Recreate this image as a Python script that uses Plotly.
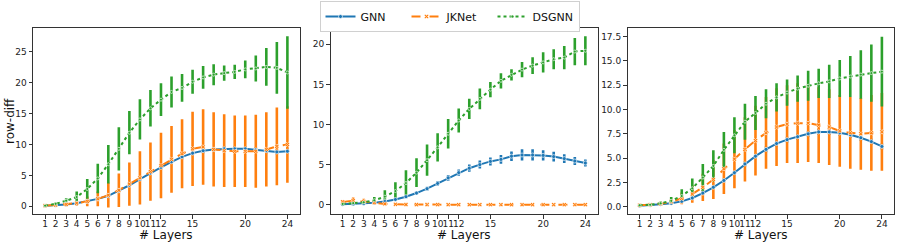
import plotly.graph_objects as go

layers = list(range(1, 25))
tick_vals = [1, 2, 3, 4, 5, 6, 7, 8, 9, 10, 11, 12, 15, 20, 24]
tick_text = [str(v) for v in tick_vals]
series_names = ["GNN", "JKNet", "DSGNN"]

# Panel 1 (row-diff)
p1_gnn_mean = [0.1, 0.15, 0.3, 0.5, 0.8, 1.2, 1.7, 2.5, 3.4, 4.4, 5.4, 6.3, 7.2, 8.0, 8.6, 9.0, 9.2, 9.3, 9.3, 9.3, 9.1, 9.0, 8.8, 8.9]
p1_gnn_std = [0.02, 0.03, 0.05, 0.08, 0.1, 0.12, 0.15, 0.2, 0.25, 0.3, 0.3, 0.35, 0.35, 0.4, 0.4, 0.4, 0.4, 0.4, 0.4, 0.4, 0.4, 0.4, 0.4, 0.4]
p1_jk_mean = [0.1, 0.2, 0.3, 0.5, 0.8, 1.2, 1.8, 2.6, 3.6, 4.6, 5.6, 6.6, 7.6, 8.5, 9.3, 9.6, 9.2, 9.0, 8.9, 8.9, 8.9, 9.2, 9.7, 10.0]
p1_jk_std = [0.1, 0.15, 0.2, 0.4, 0.8, 1.2, 2.0, 2.7, 3.5, 4.3, 4.7, 5.3, 5.4, 5.6, 6.0, 6.1, 6.0, 5.9, 5.8, 5.8, 5.9, 6.0, 6.3, 6.2]
p1_ds_mean = [0.1, 0.4, 0.9, 1.5, 2.8, 4.5, 6.8, 9.3, 11.9, 14.05, 15.85, 17.25, 18.5, 19.15, 20.15, 20.85, 21.3, 21.55, 21.75, 22.15, 22.3, 22.55, 22.4, 21.65]
p1_ds_std = [0.05, 0.2, 0.4, 0.9, 1.6, 2.4, 3.1, 3.5, 3.5, 3.25, 2.95, 2.65, 2.5, 2.25, 1.95, 1.85, 1.7, 1.25, 1.15, 1.45, 2.1, 3.05, 4.2, 5.85]

# Panel 2
p2_gnn_mean = [0.05, 0.1, 0.15, 0.25, 0.4, 0.65, 1.0, 1.45, 2.0, 2.65, 3.35, 4.0, 4.55, 5.0, 5.4, 5.65, 6.05, 6.2, 6.2, 6.15, 6.0, 5.75, 5.45, 5.2]
p2_gnn_std = [0.05, 0.05, 0.05, 0.05, 0.1, 0.1, 0.15, 0.2, 0.25, 0.3, 0.35, 0.4, 0.45, 0.5, 0.5, 0.55, 0.6, 0.7, 0.7, 0.65, 0.6, 0.55, 0.5, 0.45]
p2_jk_mean = [0.35, 0.5, 0.4, 0.25, 0.1, 0.05, 0.02, 0.01, 0.01, 0.01, 0.0, 0.0, 0.0, 0.0, 0.0, 0.0, 0.0, 0.0, 0.0, 0.0, 0.0, 0.0, 0.0, 0.0]
p2_jk_std = [0.2, 0.4, 0.35, 0.25, 0.1, 0.05, 0.03, 0.02, 0.02, 0.02, 0.02, 0.02, 0.02, 0.02, 0.02, 0.02, 0.02, 0.02, 0.02, 0.02, 0.02, 0.02, 0.02, 0.02]
p2_ds_mean = [0.1, 0.2, 0.3, 0.55, 1.0, 1.7, 2.7, 4.0, 5.55, 7.15, 8.85, 10.5, 11.95, 13.2, 14.35, 15.45, 16.2, 16.85, 17.35, 17.75, 18.15, 18.35, 19.1, 19.2]
p2_ds_std = [0.05, 0.1, 0.2, 0.4, 0.8, 1.1, 1.6, 1.8, 1.95, 1.75, 1.85, 1.5, 1.25, 1.3, 0.95, 0.95, 0.7, 0.95, 1.05, 1.25, 1.25, 1.45, 1.7, 1.8]

# Panel 3
p3_gnn_mean = [0.1, 0.15, 0.25, 0.35, 0.55, 0.9, 1.4, 2.0, 2.7, 3.5, 4.4, 5.2, 5.9, 6.5, 6.9, 7.2, 7.5, 7.7, 7.7, 7.6, 7.4, 7.1, 6.7, 6.2]
p3_gnn_std = [0.02, 0.03, 0.05, 0.05, 0.08, 0.1, 0.12, 0.15, 0.2, 0.2, 0.25, 0.25, 0.3, 0.3, 0.3, 0.3, 0.3, 0.3, 0.3, 0.3, 0.3, 0.3, 0.3, 0.3]
p3_jk_mean = [0.15, 0.2, 0.3, 0.5, 0.85, 1.3, 2.0, 2.8, 3.9, 4.9, 5.9, 6.8, 7.6, 8.2, 8.5, 8.6, 8.6, 8.4, 8.2, 7.8, 7.6, 7.5, 7.6, 7.7]
p3_jk_std = [0.05, 0.1, 0.15, 0.3, 0.6, 0.9, 1.4, 2.0, 2.6, 3.0, 3.3, 3.6, 3.7, 4.0, 4.0, 4.1, 4.0, 3.9, 3.9, 3.7, 3.7, 3.7, 3.9, 4.0]
p3_ds_mean = [0.15, 0.2, 0.35, 0.6, 1.1, 1.9, 3.0, 4.2, 5.85, 7.35, 8.75, 9.65, 10.6, 11.25, 11.75, 12.15, 12.45, 12.7, 12.9, 13.2, 13.4, 13.6, 13.75, 13.9]
p3_ds_std = [0.05, 0.1, 0.2, 0.4, 0.7, 1.0, 1.4, 1.6, 1.85, 1.85, 1.85, 1.75, 1.5, 1.45, 1.35, 1.35, 1.55, 1.5, 1.7, 1.9, 2.1, 2.5, 2.95, 3.6]

panels = [
    ([p1_gnn_mean, p1_jk_mean, p1_ds_mean], [p1_gnn_std, p1_jk_std, p1_ds_std]),
    ([p2_gnn_mean, p2_jk_mean, p2_ds_mean], [p2_gnn_std, p2_jk_std, p2_ds_std]),
    ([p3_gnn_mean, p3_jk_mean, p3_ds_mean], [p3_gnn_std, p3_jk_std, p3_ds_std]),
]

colors = ["#1f77b4", "#ff7f0e", "#2ca02c"]
dashes = ["solid", "dash", "dot"]
symbols = ["circle", "x", "circle"]
msizes = [4, 4, 3]

W, H = 899, 245
x_domains_px = [(33, 299.5), (330.5, 597.5), (627.5, 894)]
y_top_px, y_bot_px = 28.3, 214
y_domain = [1 - y_bot_px / H, 1 - y_top_px / H]
y_ranges = [[-1.25, 28.8], [-1.16, 22.0], [-0.75, 18.36]]
y_dticks = [5, 5, 2.5]
y_formats = ["d", "d", ".1f"]

fig = go.Figure()
font_family = "DejaVu Sans"

for pi, (means, stds) in enumerate(panels):
    xa = "x" if pi == 0 else f"x{pi+1}"
    ya = "y" if pi == 0 else f"y{pi+1}"
    for si in range(3):
        fig.add_trace(go.Scatter(
            x=layers, y=means[si], xaxis=xa, yaxis=ya, mode="markers",
            marker=dict(size=1, color="rgba(0,0,0,0)"),
            error_y=dict(type="data", array=stds[si], visible=True,
                         color=colors[si], thickness=2.6, width=0),
            showlegend=False, hoverinfo="skip"))
    for si in range(3):
        fig.add_trace(go.Scatter(
            x=layers, y=means[si], xaxis=xa, yaxis=ya, mode="lines+markers",
            name=series_names[si],
            line=dict(color=colors[si], width=2, dash=dashes[si]),
            marker=dict(symbol=symbols[si], size=msizes[si], color=colors[si],
                        line=dict(color="rgba(255,255,255,0.8)", width=0.8)),
            showlegend=(pi == 1)))

    axis_common = dict(showline=True, mirror=True, linecolor="#333", linewidth=1,
                       ticks="outside", ticklen=3.5, tickwidth=1, tickcolor="#333",
                       showgrid=False, zeroline=False, automargin=False,
                       tickfont=dict(family=font_family, size=9, color="#222"))
    xd = [x_domains_px[pi][0] / W, x_domains_px[pi][1] / W]
    fig.update_layout(**{
        ("xaxis" if pi == 0 else f"xaxis{pi+1}"): dict(
            domain=xd, range=[-0.15, 25.15], tickmode="array", tickangle=0,
            tickvals=tick_vals, ticktext=tick_text, anchor=ya,
            ticklabelstandoff=-2, **axis_common),
        ("yaxis" if pi == 0 else f"yaxis{pi+1}"): dict(
            domain=y_domain, range=y_ranges[pi], dtick=y_dticks[pi], tick0=0,
            tickformat=y_formats[pi], anchor=xa, **axis_common),
    })
    fig.add_annotation(text="# Layers", xref="paper", yref="paper",
                       x=(xd[0] + xd[1]) / 2, y=1 - 234.5 / H, showarrow=False,
                       font=dict(family=font_family, size=12, color="#111"),
                       xanchor="center", yanchor="middle")

fig.add_annotation(text="row-diff", xref="paper", yref="paper", x=10 / W,
                   y=1 - 121 / H, textangle=-90, showarrow=False,
                   font=dict(family=font_family, size=12, color="#111"),
                   xanchor="center", yanchor="middle")

fig.update_layout(
    width=W, height=H, margin=dict(l=0, r=0, t=0, b=0, autoexpand=False),
    paper_bgcolor="white", plot_bgcolor="white",
    showlegend=True,
    legend=dict(orientation="h", x=0.5, xanchor="center", y=1 - 1.0 / H, yanchor="top",
                bordercolor="#d0d0d0", borderwidth=1, bgcolor="white",
                font=dict(family=font_family, size=11, color="#111"),
                itemwidth=30, entrywidth=41, entrywidthmode="pixels",
                tracegroupgap=0),
)

fig.write_html("out.html", config={"displayModeBar": False},
               post_script="document.body.style.margin='0';document.body.style.overflow='hidden';")
